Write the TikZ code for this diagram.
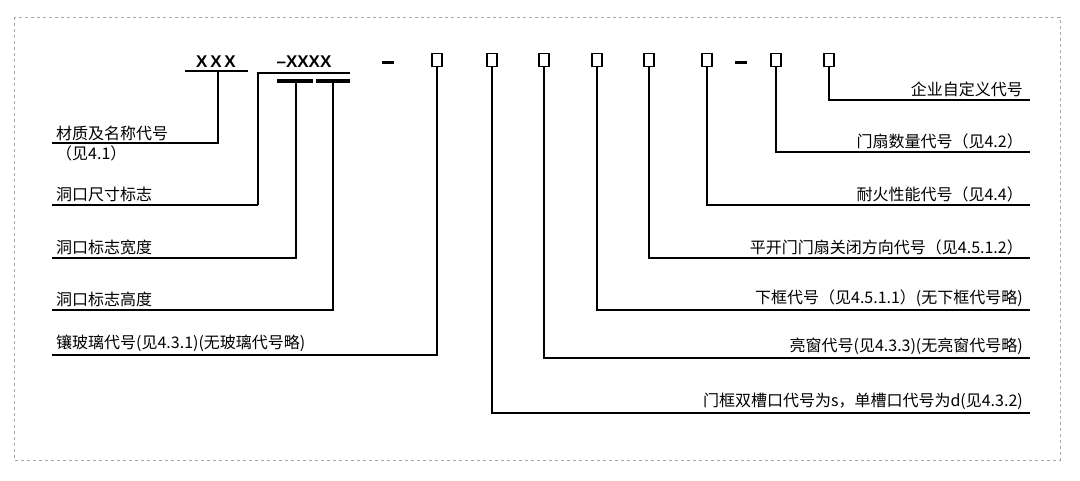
\documentclass[tikz,border=0pt]{standalone}
\usepackage{fontspec}
\setmainfont{Liberation Serif}
\setsansfont{Liberation Sans}
\newfontfamily\cjk{Noto Sans CJK SC}
\tikzset{
  lead/.style={line width=2pt},
  lab/.style={inner sep=1pt,font=\cjk\fontsize{16}{18}\selectfont},
  code/.style={inner sep=0pt,font=\sffamily\bfseries\fontsize{17}{17}\selectfont},
  slot/.style={draw,line width=1.8pt,minimum width=10pt,minimum height=13pt,inner sep=0pt}
}
\begin{document}
\begin{tikzpicture}[x=1pt,y=-1pt]
    \useasboundingbox (0,0) rectangle (1080,480);
    \draw[gray!70,dashed] (14,17) rectangle (1060,460);
    % code string
    \node[code,anchor=south] (xxx) at (216,68) {X\,X\,X};
    \node[code,anchor=south] (xxxx) at (304,68) {–XXXX};
    \draw[lead] (185,71) -- (248,71);
    \draw[lead] (258,205) -- (258,73) -- (350,73);
    \draw[line width=3.5pt] (277,81) -- (313,81);
    \draw[line width=3.5pt] (316,81) -- (350,81);
    \draw[line width=3pt] (382,62) -- (394,62);
    \draw[line width=3pt] (735,62) -- (747,62);
    \foreach \n/\x in {a/437,b/492,c/544,d/597,e/649,f/707,g/776,h/829}
        \node[slot] (\n) at (\x,60) {};
    % left side
    \draw[lead] (218,71) -- (218,143) -- (52,143);
    \node[lab,anchor=south west] (mat) at (55,142) {材质及名称代号};
    \node[lab,anchor=north west] (mat2) at (55,145) {（见4.1）};
    \draw[lead] (258,205) -- (52,205);
    \node[lab,anchor=south west] (chi) at (55,203) {洞口尺寸标志};
    \draw[lead] (296,83) -- (296,258) -- (52,258);
    \node[lab,anchor=south west] (kuan) at (55,256) {洞口标志宽度};
    \draw[lead] (333,83) -- (333,310) -- (52,310);
    \node[lab,anchor=south west] (gao) at (55,308) {洞口标志高度};
    \draw[lead] (a.south) -- (437,355) -- (52,355);
    \node[lab,anchor=south west] (boli) at (55,353) {镶玻璃代号(见4.3.1)(无玻璃代号略)};
    % right side
    \draw[lead] (b.south) -- (492,413) -- (1030,413);
    \node[lab,anchor=south east] (cao) at (1024,411) {门框双槽口代号为s，单槽口代号为d(见4.3.2)};
    \draw[lead] (c.south) -- (544,358) -- (1030,358);
    \node[lab,anchor=south east] (liang) at (1024,356) {亮窗代号(见4.3.3)(无亮窗代号略)};
    \draw[lead] (d.south) -- (597,310) -- (1030,310);
    \node[lab,anchor=south east] (xia) at (1024,308) {下框代号（见4.5.1.1）(无下框代号略)};
    \draw[lead] (e.south) -- (649,258) -- (1030,258);
    \node[lab,anchor=south east] (ping) at (1024,256) {平开门门扇关闭方向代号（见4.5.1.2）};
    \draw[lead] (f.south) -- (707,205) -- (1030,205);
    \node[lab,anchor=south east] (nai) at (1024,203) {耐火性能代号（见4.4）};
    \draw[lead] (g.south) -- (776,152) -- (1030,152);
    \node[lab,anchor=south east] (shan) at (1024,150) {门扇数量代号（见4.2）};
    \draw[lead] (h.south) -- (829,100) -- (1030,100);
    \node[lab,anchor=south east] (qi) at (1024,98) {企业自定义代号};
\end{tikzpicture}
\end{document}
